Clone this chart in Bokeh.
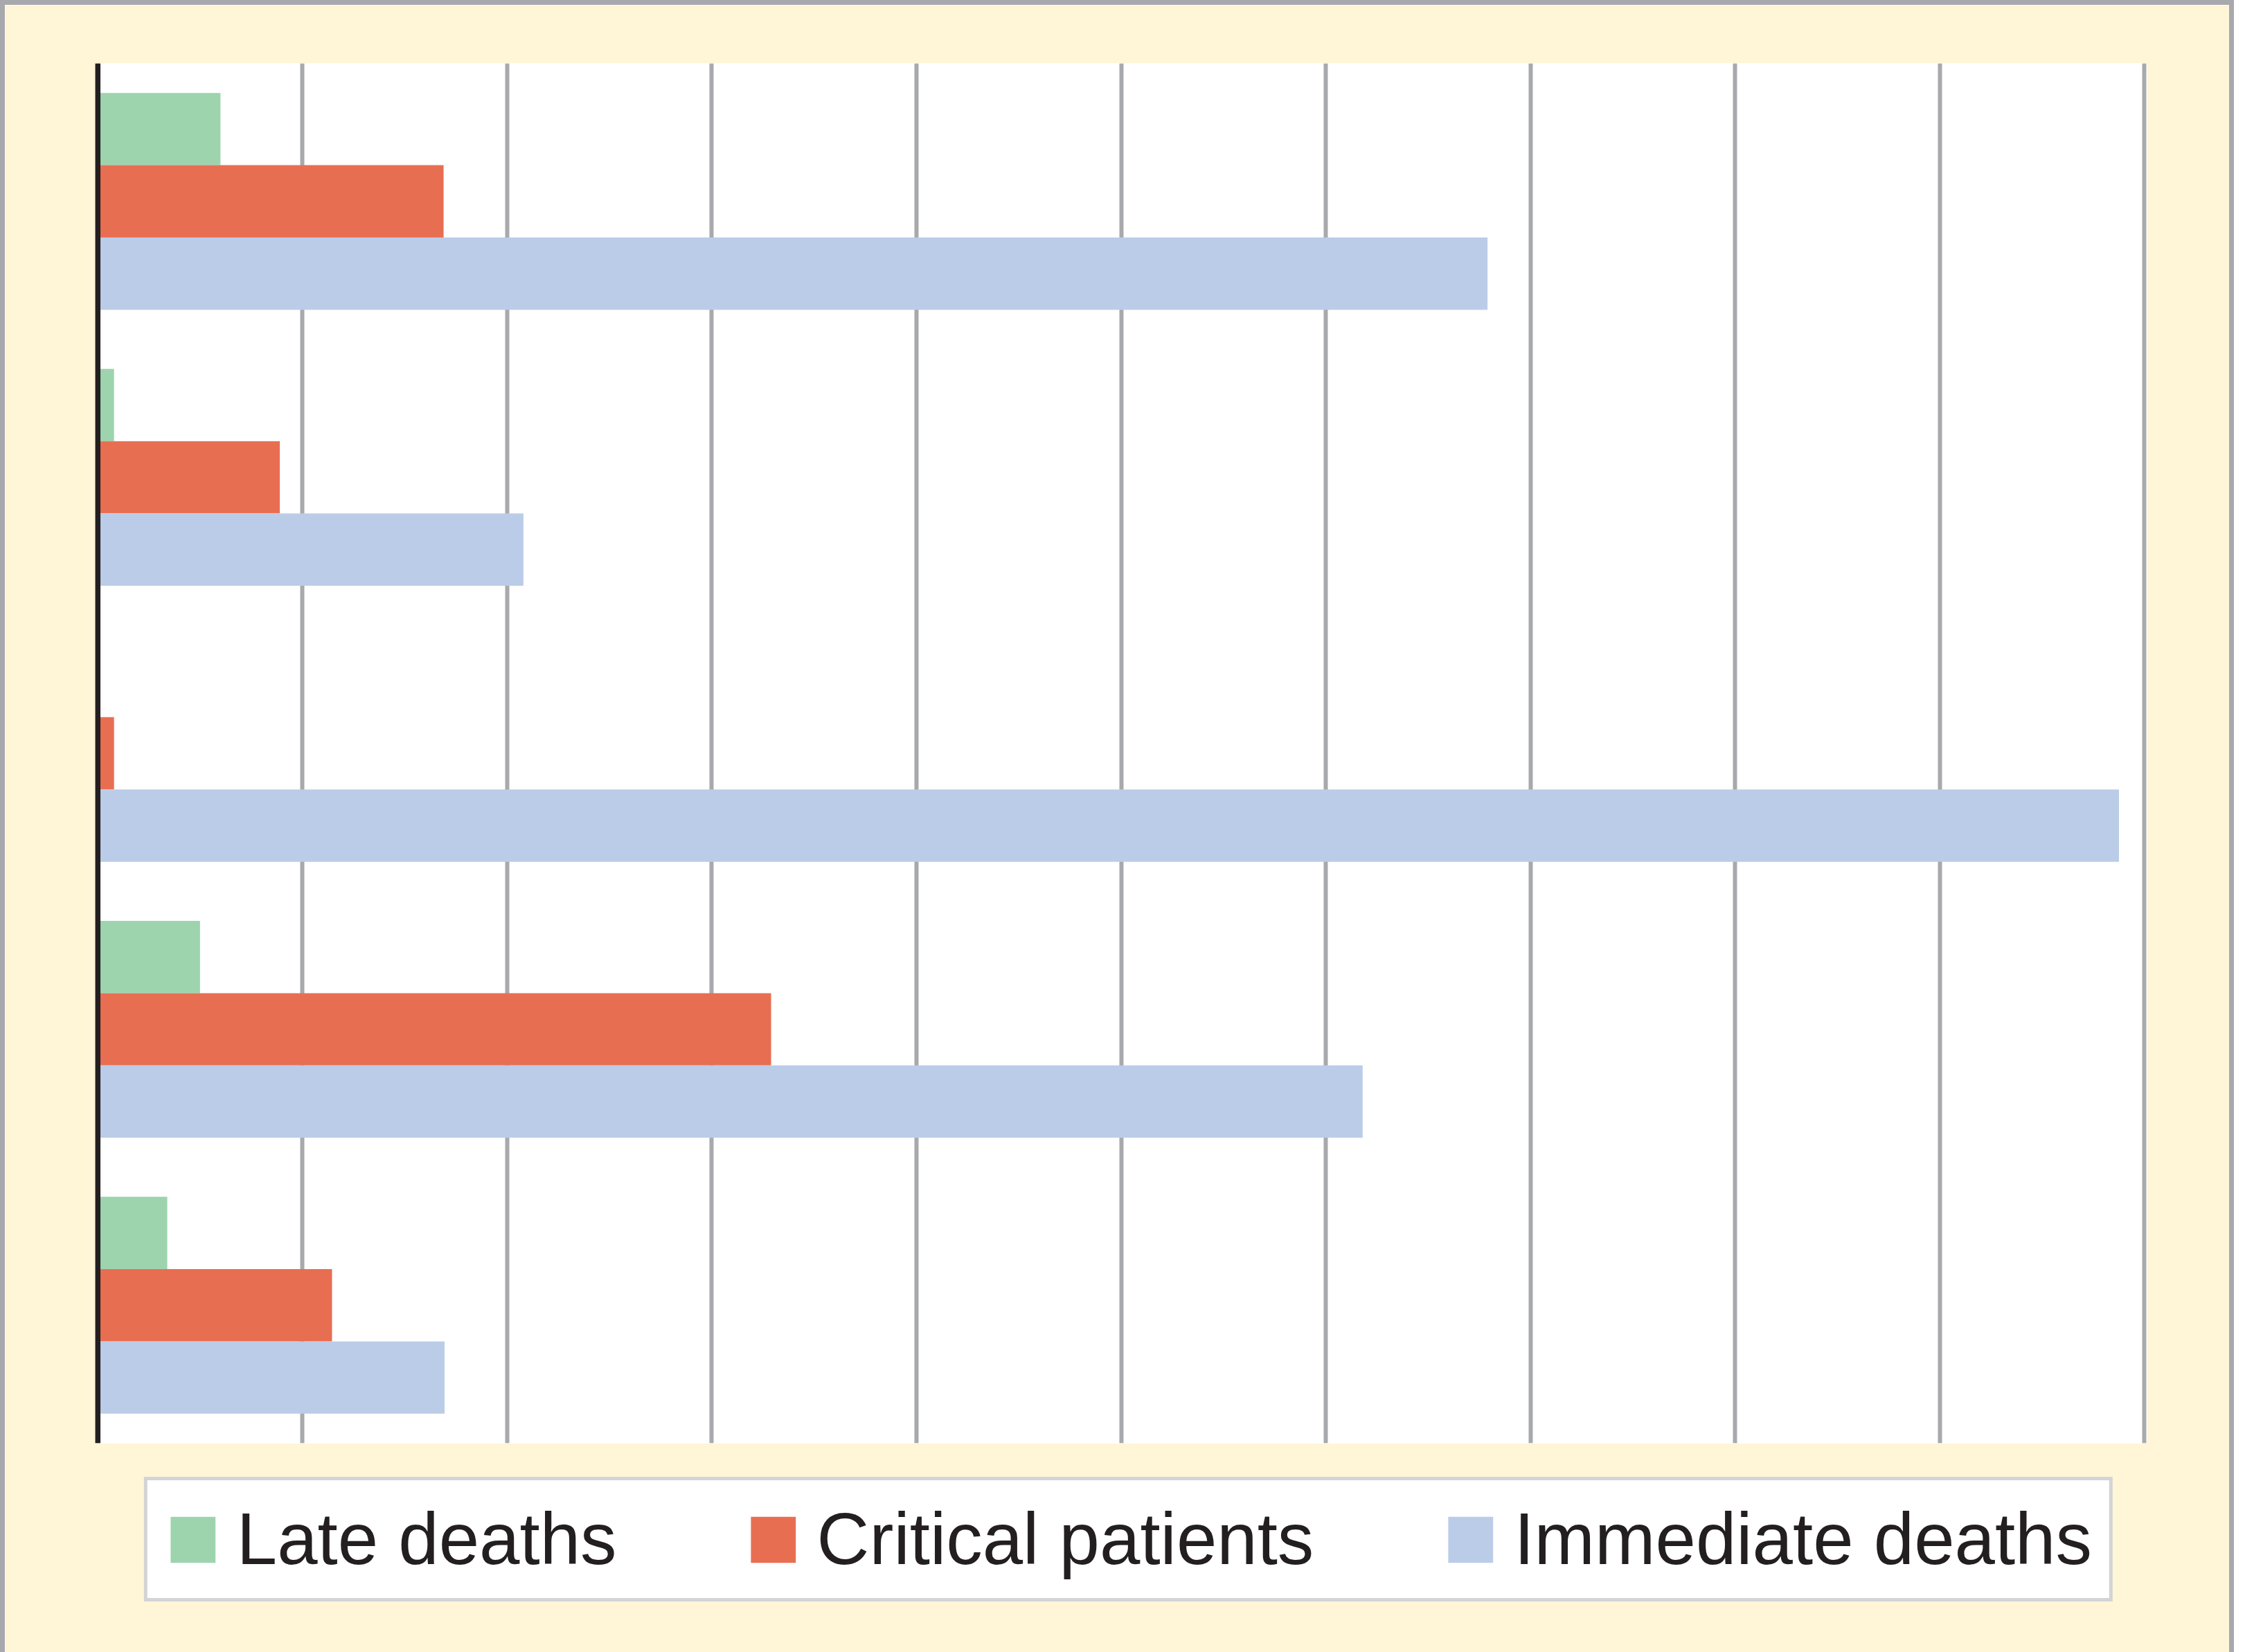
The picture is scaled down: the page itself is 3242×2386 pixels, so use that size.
from bokeh.plotting import figure
from bokeh.models import (Range1d, FactorRange, FixedTicker, Legend, LegendItem,
                          ColumnDataSource, Span)
from bokeh.transform import dodge
from bokeh.embed import file_html
from bokeh.resources import INLINE

# ---- data (top group first) ----
groups = ["Group 1", "Group 2", "Group 3", "Group 4", "Group 5"]
late_deaths = [0.60, 0.08, 0.0, 0.50, 0.34]
critical_patients = [1.69, 0.89, 0.08, 3.29, 1.145]
immediate_deaths = [6.79, 2.08, 9.875, 6.18, 1.695]
series_names = ["Late deaths", "Critical patients", "Immediate deaths"]
series_colors = ["#9dd4ae", "#e86e52", "#bbcce8"]
x_ticks = [0, 1, 2, 3, 4, 5, 6, 7, 8, 9, 10]

source = ColumnDataSource(dict(group=groups, late=late_deaths,
                               critical=critical_patients,
                               immediate=immediate_deaths))

CREAM = "#fff5d7"
GRID = "#a7a9ac"
DARK = "#231f20"
BAR_H = 0.262

p = figure(frame_width=2963, frame_height=1993,
           y_range=FactorRange(factors=groups[::-1]),
           x_range=Range1d(-0.012, 10.012),
           x_axis_location=None, y_axis_location=None,
           output_backend="svg", toolbar_location=None,
           min_border_left=130, min_border_right=119,
           min_border_top=84, min_border_bottom=279)

p.border_fill_color = CREAM
p.background_fill_color = "white"
p.outline_line_color = None
# grey outer frame of the whole picture
p.styles = {"border": "7px solid #a7a9ac"}

p.xgrid.ticker = FixedTicker(ticks=x_ticks)
p.xgrid.grid_line_color = GRID
p.xgrid.grid_line_width = 6
p.ygrid.grid_line_color = None

cols = ["late", "critical", "immediate"]
offsets = [BAR_H, 0.0, -BAR_H]
renderers = []
for col, off, color in zip(cols, offsets, series_colors):
    r = p.hbar(y=dodge("group", off, range=p.y_range), left=0, right=col,
               height=BAR_H, source=source, fill_color=color, line_color=None)
    renderers.append(r)

# black value axis line at x = 0
p.add_layout(Span(location=0, dimension="height", line_color=DARK, line_width=8))

legend = Legend(items=[LegendItem(label=n, renderers=[r]) for n, r in zip(series_names, renderers)],
                orientation="horizontal", location="top_right",
                margin=49, padding=25, spacing=185,
                glyph_width=81, glyph_height=83, label_standoff=23,
                label_text_font="Liberation Sans", label_text_font_size="105px",
                label_text_color=DARK,
                border_line_color=GRID, border_line_width=5,
                background_fill_color="white", background_fill_alpha=1.0)
p.add_layout(legend, "below")

open("out.html", "w").write(file_html(p, INLINE))
